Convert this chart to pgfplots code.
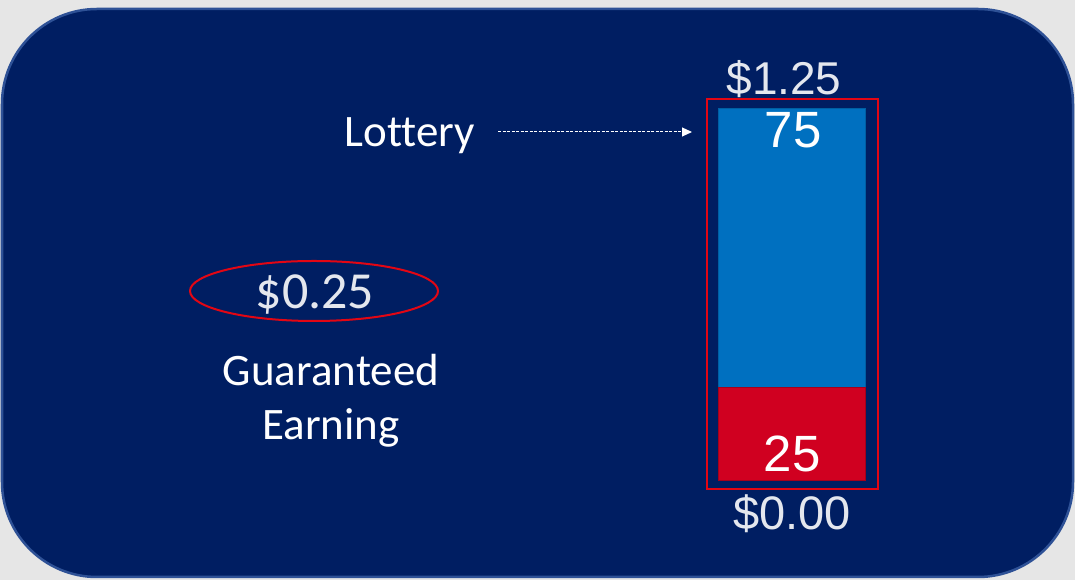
\documentclass[border=0pt]{standalone}
\usepackage{pgfplots}
\pgfplotsset{compat=1.18}
\usepackage{fontspec}
\setmainfont{Carlito}[Ligatures=NoCommon]
\newfontfamily\arialfont{Liberation Sans}
\usetikzlibrary{arrows.meta}

\definecolor{navy}{HTML}{001E62}
\definecolor{navyedge}{HTML}{2E5196}
\definecolor{outside}{HTML}{E6E6E6}
\definecolor{barblue}{HTML}{0070C0}
\definecolor{barred}{HTML}{D00020}
\definecolor{boxred}{HTML}{E30613}
\definecolor{numgrey}{HTML}{E4E7EE}

\begin{document}
\begin{tikzpicture}[x=1bp,y=1bp]
  % page and rounded panel
  \fill[outside] (0,0) rectangle (1075,580);
  \fill[navy,draw=navyedge,line width=2.5bp,rounded corners=95bp] (2,3) rectangle (1073,571);

  \begin{axis}[
    at={(0,0)}, anchor=south west,
    width=1075bp, height=580bp, scale only axis,
    hide axis,
    xmin=-791.5, xmax=283.5,
    ymin=-26.88, ymax=129.03,
    ybar stacked, bar width=147,
    clip=false,
  ]
    \addplot[fill=barred, draw=barred!80!black, line width=0.6bp] coordinates {(0,25)};
    \addplot[fill=barblue, draw=barblue!85!black, line width=0.6bp] coordinates {(0,75)};
  \end{axis}

  % bar labels
  \node[anchor=base, text=white, font=\arialfont\fontsize{51bp}{54bp}\selectfont] at (793,432) {75};
  \node[anchor=base, text=white, font=\arialfont\fontsize{51bp}{54bp}\selectfont] at (792,108) {25};
  \node[anchor=base, text=numgrey, font=\arialfont\fontsize{46bp}{50bp}\selectfont] at (784,485) {\$1.25};
  \node[anchor=base, text=numgrey, font=\arialfont\fontsize{47bp}{50bp}\selectfont] at (792,50) {\$0.00};

  % outline around the bar
  \draw[boxred, line width=2bp] (707,91) rectangle (878,481);

  % lottery label and arrow
  \node[anchor=base, text=white, font=\fontsize{45bp}{54bp}\selectfont] at (410,433) {Lottery};
  \draw[white, line width=1bp, dash pattern=on 3bp off 1.5bp, -{Triangle[length=10bp,width=9bp]}] (498,448) -- (692,448);

  % guaranteed earning
  \draw[boxred, line width=2bp] (314,289) ellipse [x radius=124, y radius=30];
  \node[anchor=base, text=numgrey, font=\fontsize{52bp}{56bp}\selectfont] at (315,271) {\$0.25};
  \node[anchor=base, text=white, font=\fontsize{45bp}{54bp}\selectfont] at (331,194) {Guaranteed};
  \node[anchor=base, text=white, font=\fontsize{45bp}{54bp}\selectfont] at (331,140) {Earning};

  \pgfresetboundingbox
  \useasboundingbox (0,0) rectangle (1075,580);
\end{tikzpicture}
\end{document}
